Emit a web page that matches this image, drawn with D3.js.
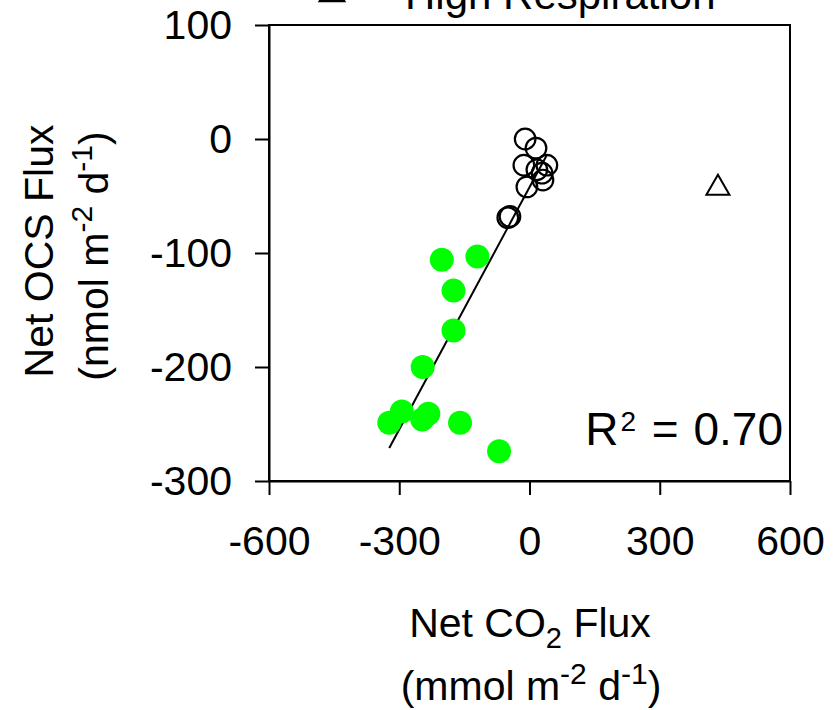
<!DOCTYPE html>
<html><head><meta charset="utf-8">
<script src="https://cdn.jsdelivr.net/npm/d3@7"></script>
<style>
body{margin:0;background:#fff}
svg{display:block}
text{font-family:"Liberation Sans",Arial,sans-serif;fill:#000}
</style>
</head><body>
<svg id="c" width="835" height="710"></svg>
<script>
// ---- data ----
const xTicks = [-600, -300, 0, 300, 600];
const yTicks = [100, 0, -100, -200, -300];
// Green filled circles (net uptake)
const greenX = [-202, -120, -175, -175, -246, -294, -323, -233, -247, -160, -70];
const greenY = [-106, -103, -133, -168, -200, -239, -249, -241, -246, -249, -274];
// Open circles
const openX = [-10, 15, -13, 40, 17, 29, 31, -6, -45, -50];
const openY = [0, -8, -23, -23, -27, -30, -36, -42, -68, -69];
// High respiration (triangle)
const triX = [434];
const triY = [-43];
// Regression line end points
const fitX = [-323, 40];
const fitY = [-271, -14];
const legendLabel = "High Respiration";
const r2Label = "0.70";

// ---- drawing ----
const svg = d3.select("#c");
const x = d3.scaleLinear().domain([-600, 600]).range([269, 790]);
const y = d3.scaleLinear().domain([-300, 100]).range([481, 25]);

// frame
svg.append("rect").attr("x", x(-600)).attr("y", y(100))
  .attr("width", x(600) - x(-600)).attr("height", y(-300) - y(100))
  .attr("fill", "none").attr("stroke", "#000").attr("stroke-width", 2);

const xAxis = svg.append("g").attr("transform", `translate(0,${y(-300)})`)
  .call(d3.axisBottom(x).tickValues(xTicks).tickFormat(d3.format("d"))
    .tickSize(14).tickSizeOuter(0).tickPadding(31));
const yAxis = svg.append("g").attr("transform", `translate(${x(-600)},0)`)
  .call(d3.axisLeft(y).tickValues(yTicks).tickFormat(d3.format("d"))
    .tickSize(14).tickSizeOuter(0).tickPadding(23));
[xAxis, yAxis].forEach(g => {
  g.select(".domain").attr("stroke-width", 2);
  g.selectAll(".tick line").attr("stroke-width", 2);
  g.selectAll(".tick text").attr("font-size", 41)
    .attr("font-family", '"Liberation Sans",Arial,sans-serif')
    .text(d => d < 0 ? "-" + Math.abs(d) : d);
  g.attr("font-family", null).attr("font-size", null);
});

// regression line
svg.append("path")
  .datum(fitX.map((v, i) => [v, fitY[i]]))
  .attr("d", d3.line().x(d => x(d[0])).y(d => y(d[1])))
  .attr("fill", "none").attr("stroke", "#000").attr("stroke-width", 2);

// green points
svg.append("g").selectAll("circle")
  .data(greenX.map((v, i) => [v, greenY[i]]))
  .join("circle")
  .attr("cx", d => x(d[0])).attr("cy", d => y(d[1])).attr("r", 12)
  .attr("fill", "#00ff00");

// open circles
svg.append("g").selectAll("circle")
  .data(openX.map((v, i) => [v, openY[i]]))
  .join("circle")
  .attr("cx", d => x(d[0])).attr("cy", d => y(d[1])).attr("r", 10.3)
  .attr("fill", "none").attr("stroke", "#000").attr("stroke-width", 2.2);

// triangle
svg.append("g").selectAll("path")
  .data(triX.map((v, i) => [v, triY[i]]))
  .join("path")
  .attr("transform", d => `translate(${x(d[0])},${y(d[1])})`)
  .attr("d", d3.symbol().type(d3.symbolTriangle).size(230))
  .attr("fill", "none").attr("stroke", "#000").attr("stroke-width", 2);

// legend (cut off at top)
svg.append("path")
  .attr("transform", "translate(332,-6)")
  .attr("d", d3.symbol().type(d3.symbolTriangle).size(260))
  .attr("fill", "none").attr("stroke", "#000").attr("stroke-width", 2.2);
svg.append("text").attr("x", 405).attr("y", 9).attr("font-size", 42).text(legendLabel);

// R2
const r2 = svg.append("text").attr("x", 783).attr("y", 445).attr("font-size", 46)
  .attr("text-anchor", "end");
r2.append("tspan").text("R");
r2.append("tspan").attr("font-size", 28).attr("dy", -14).attr("dx", 2).text("2");
r2.append("tspan").attr("dy", 14).attr("dx", 3).text(" = ");
r2.append("tspan").attr("dx", 2).text(r2Label);

// x title
const xt1 = svg.append("text").attr("x", 530).attr("y", 637).attr("font-size", 41)
  .attr("text-anchor", "middle");
xt1.append("tspan").text("Net CO");
xt1.append("tspan").attr("font-size", 29).attr("dy", 11).text("2");
xt1.append("tspan").attr("dy", -11).text(" Flux");

const xt2 = svg.append("text").attr("x", 531).attr("y", 700).attr("font-size", 41)
  .attr("text-anchor", "middle");
xt2.append("tspan").text("(mmol m");
xt2.append("tspan").attr("font-size", 30).attr("dy", -16).text("-2");
xt2.append("tspan").attr("dy", 16).text(" d");
xt2.append("tspan").attr("font-size", 30).attr("dy", -16).text("-1");
xt2.append("tspan").attr("dy", 16).text(")");

// y title
svg.append("text").attr("transform", "translate(53,251) rotate(-90)")
  .attr("font-size", 41).attr("text-anchor", "middle").text("Net OCS Flux");
const yt2 = svg.append("text").attr("transform", "translate(108,256) rotate(-90)")
  .attr("font-size", 41).attr("text-anchor", "middle");
yt2.append("tspan").text("(nmol m");
yt2.append("tspan").attr("font-size", 30).attr("dy", -16).text("-2");
yt2.append("tspan").attr("dy", 16).text(" d");
yt2.append("tspan").attr("font-size", 30).attr("dy", -16).text("-1");
yt2.append("tspan").attr("dy", 16).text(")");
</script>
</body></html>
